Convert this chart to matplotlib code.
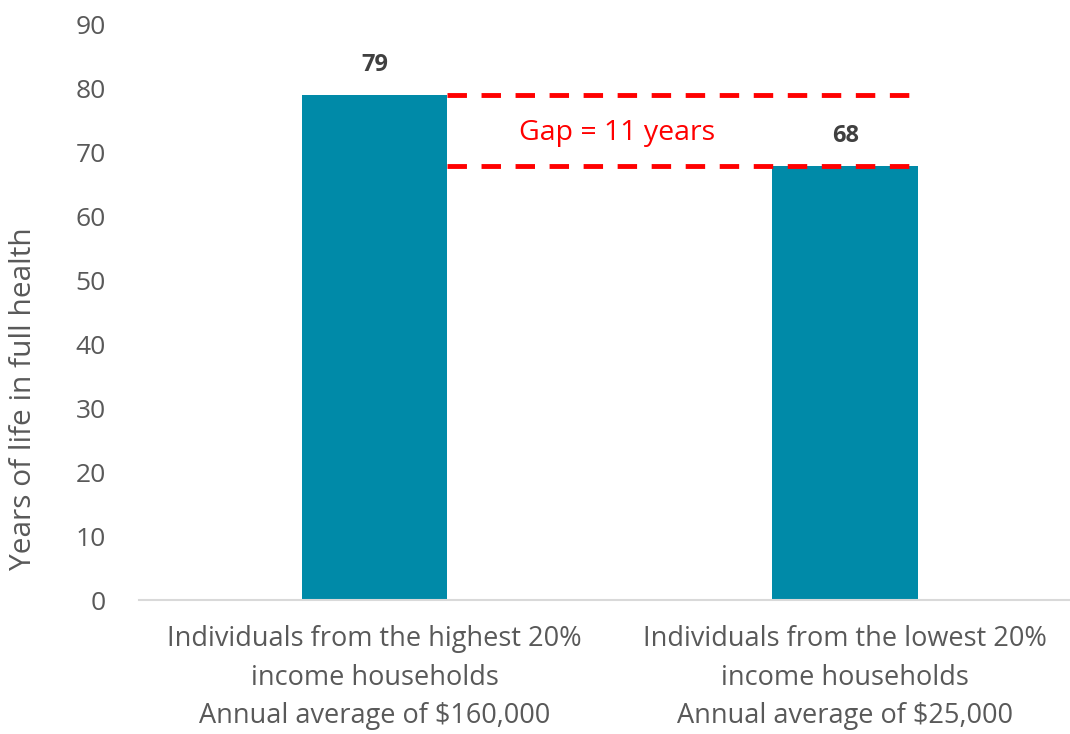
import matplotlib.pyplot as plt
from matplotlib import font_manager

# Chart data
categories = ['Individuals from the highest 20%\nincome households\nAnnual average of $160,000',
              'Individuals from the lowest 20%\nincome households\nAnnual average of $25,000']
years = [79, 68]
gap_label = 'Gap = 11 years'
yticks = [0, 10, 20, 30, 40, 50, 60, 70, 80, 90]

names = {f.name for f in font_manager.fontManager.ttflist}
family = ['Liberation Sans Narrow', 'DejaVu Sans'] if 'Liberation Sans Narrow' in names else ['Open Sans', 'DejaVu Sans']
plt.rcParams['font.family'] = family

bar_color = '#008aa8'
grey = '#595959'

fig = plt.figure(figsize=(10.7, 7.34), dpi=100)
ax = fig.add_axes([0.13, 0.182, 0.88, 0.784])

x = range(len(years))
width = 0.31
ax.bar(x, years, width=width, color=bar_color, zorder=2)

for xi, v in zip(x, years):
    ax.text(xi, v + 2.8, str(v), ha='center', va='bottom', fontsize=17,
            fontweight='bold', color='#404040')

# dashed gap lines between the two bars
x0 = 0 + width / 2
x1 = 1 + width / 2 - 0.01
ax.plot([x0, x1], [years[0], years[0]], color='red', lw=3.5, ls=(0, (4, 3)), zorder=3)
ax.plot([x0, x1], [years[1], years[1]], color='red', lw=3.5, ls=(0, (4, 3)), zorder=3)
ax.text(0.515, (years[0] + years[1]) / 2 - 0.4, gap_label, ha='center', va='center',
        fontsize=20.5, color='red')

ax.set_xlim(-0.5, 1.5)
ax.set_ylim(0, 90)
ax.set_yticks(yticks)
ax.set_xticks(list(x))
ax.set_xticklabels(categories, fontsize=19.5, color=grey, linespacing=1.5)
ax.tick_params(axis='y', labelsize=19, colors=grey, length=0, pad=24)
ax.tick_params(axis='x', length=0, pad=18)
ax.set_ylabel('Years of life in full health', fontsize=21.5, color=grey)
ax.yaxis.set_label_coords(-0.107, 0.35)

for s in ['top', 'right', 'left']:
    ax.spines[s].set_visible(False)
ax.spines['bottom'].set_color('#d9d9d9')
ax.spines['bottom'].set_linewidth(1.5)

fig.savefig('out.png', dpi=100)
